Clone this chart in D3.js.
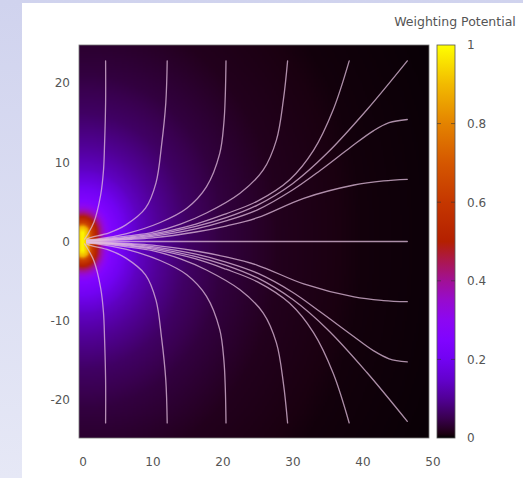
<!DOCTYPE html>
<html>
<head>
<meta charset="utf-8">
<script src="https://cdn.jsdelivr.net/npm/d3@7"></script>
<style>
  body { margin: 0; background: #fff; }
  svg { display: block; }
</style>
</head>
<body>
<script>
// ---- data ----
var xTicks = [0, 10, 20, 30, 40, 50];
var yTicks = [-20, -10, 0, 10, 20];
var cbTicks = [0, 0.2, 0.4, 0.6, 0.8, 1];
var cbTickLabels = ["0", "0.2", "0.4", "0.6", "0.8", "1"];
var cbTitle = "Weighting Potential";

// palette
var paletteStops  = [0, 0.01, 0.02, 0.05, 0.1, 0.15, 0.2, 0.25, 0.3, 0.35, 0.4, 0.45, 0.5, 0.6, 0.7, 0.8, 0.9, 1];
var paletteColors = ["#000000", "#1a0010", "#240020", "#39004f", "#510096", "#6301ce", "#7202f2", "#8004ff",
                     "#8c07f2", "#970bce", "#a11096", "#ab174f", "#b42000", "#c53700", "#d55700", "#e48300", "#f2ba00", "#ffff00"];

// weighting potential vs distance from the small electrode at x = 0
var electrodeHalf = 1.1;
var potentialRadius = [0, 0.8, 1.2, 2.0, 2.6, 3.2, 4, 6, 8, 11, 15, 20, 28, 40, 60];
var potentialValue  = [1, 0.88, 0.65, 0.5, 0.4, 0.32, 0.25, 0.19, 0.14, 0.1, 0.065, 0.04, 0.018, 0.007, 0.002];

// field lines, upper half (from the electrode outwards)
var lineTop1 = [[0.3,0.3],[0.7,0.85],[1.64,2.46],[2.6,5.9],[3.0,9.0],[3.15,12.2],[3.3,17.5],[3.3,22.8]];
var lineTop2 = [[0.6,0.3],[1.1,0.5],[3.8,1.1],[6.2,2.1],[9.0,4.2],[10.5,7.4],[11.3,12.2],[11.9,17.5],[12.1,22.8]];
var lineTop3 = [[0.6,0.2],[2.5,0.35],[6.3,1.0],[11.1,2.4],[14.9,4.2],[17.7,6.9],[19.6,11.1],[20.2,15],[20.4,18.5],[20.5,22.8]];
var lineTop4 = [[0.6,0.15],[2.5,0.28],[6.6,0.7],[10,1.15],[14,2.2],[17.7,3.6],[22.5,6.1],[25.8,9.0],[27.7,12.8],[28.7,17.9],[29.3,22.8]];
var lineTop5 = [[0.6,0.12],[2.5,0.22],[6.6,0.55],[10,0.95],[16.2,2.2],[20.5,3.5],[25,5.1],[29.6,7.8],[33.0,11.5],[35.8,16.6],[38.1,22.8]];
var lineDiagTop = [[0.6,0.1],[2.5,0.18],[6.6,0.45],[10,0.8],[16.2,1.9],[20.5,3.0],[25,4.6],[30,7.3],[35,11.2],[40.6,16.6],[46.4,22.8]];
var lineRight16 = [[0.6,0.07],[2.5,0.13],[6.6,0.35],[10,0.65],[16.2,1.6],[20.5,2.6],[25,4.0],[30,6.5],[34,9.0],[38.3,11.9],[41.6,14.0],[43.8,15.0],[46.4,15.4]];
var lineRight8  = [[0.6,0.04],[2.5,0.08],[6.6,0.25],[10,0.45],[16.2,1.2],[20.5,1.95],[25,3.0],[31.6,5.45],[38.8,7.13],[43,7.65],[46.4,7.85]];
var lineMiddle  = [[0.6,0],[46.4,0]];

// field lines, lower half
var lineBot1 = [[0.3,-0.3],[0.7,-0.85],[1.64,-2.46],[2.6,-5.9],[3.0,-9.0],[3.15,-12.2],[3.3,-17.5],[3.3,-22.9]];
var lineBot2 = [[0.6,-0.3],[1.1,-0.5],[3.8,-1.1],[6.2,-2.1],[9.0,-4.2],[10.5,-7.4],[11.3,-12.2],[11.9,-17.5],[12.1,-22.9]];
var lineBot3 = [[0.6,-0.2],[2.5,-0.35],[6.3,-1.0],[11.1,-2.4],[14.9,-4.2],[17.7,-6.9],[19.6,-11.1],[20.2,-15],[20.4,-18.5],[20.5,-22.9]];
var lineBot4 = [[0.6,-0.15],[2.5,-0.28],[6.6,-0.7],[10,-1.15],[14,-2.2],[17.7,-3.6],[22.5,-6.1],[25.8,-9.0],[27.7,-12.8],[28.7,-17.9],[29.3,-22.9]];
var lineBot5 = [[0.6,-0.12],[2.5,-0.22],[6.6,-0.55],[10,-0.95],[16.2,-2.2],[20.5,-3.5],[25,-5.1],[29.6,-7.8],[33.0,-11.5],[35.8,-16.6],[38.1,-22.9]];
var lineDiagBot = [[0.6,-0.1],[2.5,-0.18],[6.6,-0.45],[10,-0.8],[16.2,-1.9],[20.5,-3.0],[25,-4.6],[30,-7.3],[35,-11.1],[40.6,-16.5],[46.4,-22.7]];
var lineRightM15 = [[0.6,-0.07],[2.5,-0.13],[6.6,-0.35],[10,-0.65],[16.2,-1.6],[20.5,-2.6],[25,-4.0],[30,-6.4],[34,-8.9],[38.3,-11.7],[41.6,-13.8],[43.8,-14.8],[46.4,-15.2]];
var lineRightM8  = [[0.6,-0.04],[2.5,-0.08],[6.6,-0.25],[10,-0.45],[16.2,-1.2],[20.5,-1.95],[25,-3.0],[31.6,-5.35],[38.8,-7.0],[43,-7.45],[46.4,-7.6]];

var fieldLines = [lineTop1, lineTop2, lineTop3, lineTop4, lineTop5, lineDiagTop, lineRight16, lineRight8, lineMiddle,
                  lineBot1, lineBot2, lineBot3, lineBot4, lineBot5, lineDiagBot, lineRightM15, lineRightM8];

// ---- drawing ----
var W = 523, H = 478;
var xDomain = [-0.5, 49.5], yDomain = [-24.8, 24.8];

var svg = d3.select("body").append("svg")
    .attr("width", W)
    .attr("height", H);

var defs = svg.append("defs");

var bg = defs.append("linearGradient")
    .attr("id", "bg")
    .attr("x1", 0).attr("y1", 0).attr("x2", 0).attr("y2", 1);
bg.append("stop").attr("offset", 0).attr("stop-color", "#d0d3ee");
bg.append("stop").attr("offset", 1).attr("stop-color", "#e6e8f6");

svg.append("rect")
    .attr("width", W)
    .attr("height", H)
    .attr("fill", "url(#bg)");

svg.append("rect")
    .attr("x", 22)
    .attr("y", 3)
    .attr("width", W - 22)
    .attr("height", H - 3)
    .attr("fill", "#fff");

var x = d3.scaleLinear().domain(xDomain).range([79, 429]);
var y = d3.scaleLinear().domain(yDomain).range([438, 45]);

var potential = d3.scaleLinear().domain(potentialRadius).range(potentialValue).clamp(true);
var color = d3.scaleLinear().domain(paletteStops).range(paletteColors).clamp(true);

// heat map painted into a small canvas, then stretched over the plot area
var nx = 200, ny = 200;
var canvas = document.createElement("canvas");
canvas.width = nx;
canvas.height = ny;
var ctx = canvas.getContext("2d");
var img = ctx.createImageData(nx, ny);
for (var j = 0; j < ny; j++) {
  var cy = yDomain[1] - (j + 0.5) * (yDomain[1] - yDomain[0]) / ny;
  for (var i = 0; i < nx; i++) {
    var cx = xDomain[0] + (i + 0.5) * (xDomain[1] - xDomain[0]) / nx;
    var dy = Math.max(0, Math.abs(cy) - electrodeHalf);
    var r = Math.sqrt(cx * cx + dy * dy);
    var c = d3.rgb(color(potential(r)));
    var k = (j * nx + i) * 4;
    img.data[k] = c.r;
    img.data[k + 1] = c.g;
    img.data[k + 2] = c.b;
    img.data[k + 3] = 255;
  }
}
ctx.putImageData(img, 0, 0);

defs.append("clipPath")
    .attr("id", "plotclip")
  .append("rect")
    .attr("x", x(xDomain[0]))
    .attr("y", y(yDomain[1]))
    .attr("width", x(xDomain[1]) - x(xDomain[0]))
    .attr("height", y(yDomain[0]) - y(yDomain[1]));

svg.append("image")
    .attr("href", canvas.toDataURL())
    .attr("x", x(xDomain[0]))
    .attr("y", y(yDomain[1]))
    .attr("width", x(xDomain[1]) - x(xDomain[0]))
    .attr("height", y(yDomain[0]) - y(yDomain[1]))
    .attr("preserveAspectRatio", "none");

var lineGen = d3.line()
    .x(function (d) { return x(d[0]); })
    .y(function (d) { return y(d[1]); })
    .curve(d3.curveCatmullRom.alpha(0.5));

svg.append("g")
    .attr("clip-path", "url(#plotclip)")
  .selectAll("path")
    .data(fieldLines)
  .enter().append("path")
    .attr("d", lineGen)
    .attr("fill", "none")
    .attr("stroke", "#e2bede")
    .attr("stroke-width", 1.3)
    .attr("stroke-opacity", 0.75)
    .attr("stroke-linecap", "round");

svg.append("rect")
    .attr("x", x(xDomain[0]))
    .attr("y", y(yDomain[1]))
    .attr("width", x(xDomain[1]) - x(xDomain[0]))
    .attr("height", y(yDomain[0]) - y(yDomain[1]))
    .attr("fill", "none")
    .attr("stroke", "#777")
    .attr("stroke-width", 0.8);

// axes
var font = "'DejaVu Sans', sans-serif";
var plain = function (d) { return String(d); };

var xAxis = svg.append("g")
    .attr("transform", "translate(0," + y(yDomain[0]) + ")")
    .call(d3.axisBottom(x).tickValues(xTicks).tickSize(0).tickPadding(19).tickFormat(plain));
var yAxis = svg.append("g")
    .attr("transform", "translate(" + x(xDomain[0]) + ",0)")
    .call(d3.axisLeft(y).tickValues(yTicks).tickSize(0).tickPadding(9).tickFormat(plain));

[xAxis, yAxis].forEach(function (g) {
  g.select(".domain").remove();
  g.selectAll("text")
      .attr("fill", "#555")
      .style("font-family", font)
      .style("font-size", "12px");
});

// colour bar
var cbX = 437, cbW = 18;
var cb = d3.scaleLinear().domain([0, 1]).range([438, 45]);

var grad = defs.append("linearGradient")
    .attr("id", "cbgrad")
    .attr("x1", 0).attr("y1", 1).attr("x2", 0).attr("y2", 0);
grad.selectAll("stop")
    .data(paletteStops)
  .enter().append("stop")
    .attr("offset", function (d) { return d; })
    .attr("stop-color", function (d) { return color(d); });

svg.append("rect")
    .attr("x", cbX)
    .attr("y", cb(1))
    .attr("width", cbW)
    .attr("height", cb(0) - cb(1))
    .attr("fill", "url(#cbgrad)")
    .attr("stroke", "#555")
    .attr("stroke-width", 0.8);

svg.append("g")
  .selectAll("path")
    .data(cbTicks.slice(1, -1))
  .enter().append("path")
    .attr("d", function (d) {
      return "M" + cbX + "," + cb(d) + "h4M" + (cbX + cbW) + "," + cb(d) + "h-4";
    })
    .attr("stroke", "#333")
    .attr("stroke-opacity", 0.6)
    .attr("stroke-width", 1);

var cbAxis = svg.append("g")
    .attr("transform", "translate(" + (cbX + cbW) + ",0)")
    .call(d3.axisRight(cb).tickValues(cbTicks).tickSize(0).tickPadding(12)
      .tickFormat(function (d, i) { return cbTickLabels[i]; }));
cbAxis.select(".domain").remove();
cbAxis.selectAll("text")
    .attr("fill", "#555")
    .style("font-family", font)
    .style("font-size", "12px");

svg.append("text")
    .attr("x", 455)
    .attr("y", 26)
    .attr("text-anchor", "middle")
    .attr("fill", "#555")
    .style("font-family", font)
    .style("font-size", "12.5px")
    .text(cbTitle);
</script>
</body>
</html>
